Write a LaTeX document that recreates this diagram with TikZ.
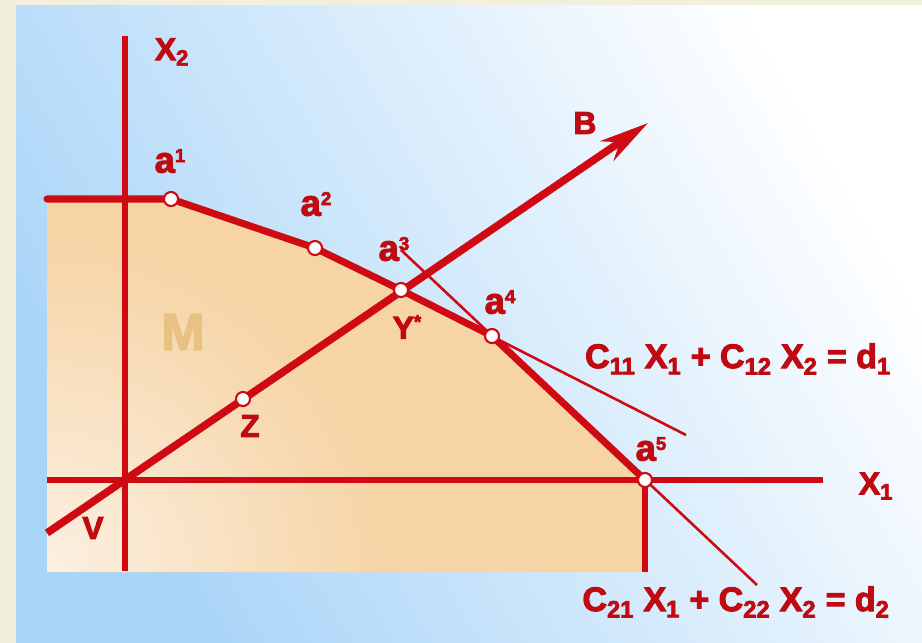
\documentclass[tikz,border=0pt]{standalone}
\usepackage{fontspec}
\setmainfont{Liberation Sans}
\newfontfamily\heavyfont[FakeBold=3]{Liberation Sans Bold}
\usetikzlibrary{arrows.meta, positioning, calc}

\definecolor{cream}{HTML}{F3EFDD}
\definecolor{skyblue}{HTML}{A8D4F8}
\definecolor{sand}{HTML}{F6D4A5}
\definecolor{sandlight}{HTML}{FCF0E2}
\definecolor{linered}{HTML}{CF0A12}
\definecolor{textred}{HTML}{BE0A10}
\definecolor{mgold}{HTML}{E8C282}

% small raised index as in the picture
\newcommand\upidx[1]{\raisebox{9pt}{\fontsize{16}{16}\selectfont #1}}

\begin{document}
\begin{tikzpicture}[
        x=0.03cm, y=-0.03cm,
        >=Stealth,
        % lines of the set M and the axes
        shadowed/.style={preaction={draw=black!70, opacity=0.25, transform canvas={xshift=1.2pt, yshift=-1.2pt}}},
        edge/.style={linered, line width=6pt, line join=round, line cap=round, shadowed},
        axis/.style={linered, line width=5pt, shadowed},
        guide/.style={linered, line width=2.2pt},
        ray/.style={linered, line width=6.5pt, -{Stealth[length=42pt, width=20pt, inset=13pt]}, shadowed},
        vertex/.style={circle, draw=linered, fill=white, line width=1.8pt, inner sep=0pt, minimum size=12pt},
        lbl/.style={text=textred, font=\heavyfont\fontsize{27}{29}\selectfont, inner sep=0pt},
        albl/.style={text=textred, font=\heavyfont\fontsize{31}{33}\selectfont, inner sep=0pt},
        eq/.style={text=textred, font=\heavyfont\fontsize{29}{31}\selectfont, inner sep=0pt}
    ]
        \useasboundingbox (0,0) rectangle (922,643);

        % Fondo
        \fill[cream] (0,0) rectangle (922,643);
        \shade[top color=white, middle color=skyblue!72!white, bottom color=skyblue, shading angle=-60] (16,5) rectangle (922,643);

        % Puntos del conjunto M
        \coordinate (topleft) at (47,199);
        \coordinate (a1) at (171,199);
        \coordinate (a2) at (315,248);
        \coordinate (ystar) at (401,290);
        \coordinate (a4) at (492,336);
        \coordinate (a5) at (645,480);
        \coordinate (cornerbr) at (645,572);
        \coordinate (cornerbl) at (47,572);

        % Ejes y rectas
        \coordinate (x2top) at (125,36);
        \coordinate (x2bot) at (125,571);
        \coordinate (x1left) at (47,480);
        \coordinate (x1right) at (823,480);
        \coordinate (bstart) at (47,533);
        \coordinate (btip) at (648,123);
        \coordinate (z) at (243,399);
        \coordinate (d1end) at (686,435);
        \coordinate (d2top) at (401,250);
        \coordinate (d2end) at (757,585);

        % Conjunto M
        \fill[sand] (topleft) -- (a1) -- (a2) -- (ystar) -- (a4) -- (a5) -- (cornerbr) -- (cornerbl) -- cycle;
        \begin{scope}
            \clip (topleft) -- (a1) -- (a2) -- (ystar) -- (a4) -- (a5) -- (cornerbr) -- (cornerbl) -- cycle;
            \shade[inner color=sandlight, outer color=sand] (cornerbl) circle (340);
        \end{scope}

        \draw[axis] (x2top) -- (x2bot);
        \draw[axis] (x1left) -- (x1right);
        \draw[axis] (a5) -- (cornerbr);
        \draw[guide] (ystar) -- (d1end);
        \draw[guide] (d2top) -- (d2end);
        \draw[edge] (topleft) -- (a1) -- (a2) -- (ystar) -- (a4) -- (a5);
        \draw[ray] (bstart) -- (btip);

        % Vertices
        \node[vertex] (a1dot) at (a1) {};
        \node[vertex] (a2dot) at (a2) {};
        \node[vertex] (ystardot) at (ystar) {};
        \node[vertex] (a4dot) at (a4) {};
        \node[vertex] (a5dot) at (a5) {};
        \node[vertex] (zdot) at (z) {};

        % Etiquetas
        \node[lbl] (x2lbl) at (172,52) {X\textsubscript{2}};
        \node[lbl] (x1lbl) at (876,486) {X\textsubscript{1}};
        \node[albl] (a1lbl) at (170,161) {a\upidx{1}};
        \node[albl] (a2lbl) at (316,204) {a\upidx{2}};
        \node[albl] (a3lbl) at (394,249) {a\upidx{3}};
        \node[albl] (a4lbl) at (500,302) {a\upidx{4}};
        \node[albl] (a5lbl) at (651,449) {a\upidx{5}};
        \node[lbl] (ystarlbl) at (407,327) {Y\upidx{*}};
        \node[lbl] (zlbl) at (250,426) {Z};
        \node[lbl] (vlbl) at (93,528) {V};
        \node[lbl] (blbl) at (585,123) {B};
        \node[text=mgold, font=\heavyfont\fontsize{44}{46}\selectfont, inner sep=0pt] (mlbl) at (183,332) {M};

        \node[eq] (eqone) at (738,359) {C\textsubscript{11} X\textsubscript{1} + C\textsubscript{12} X\textsubscript{2} = d\textsubscript{1}};
        \node[eq] (eqtwo) at (736,602) {C\textsubscript{21} X\textsubscript{1} + C\textsubscript{22} X\textsubscript{2} = d\textsubscript{2}};

    \end{tikzpicture}
\end{document}
